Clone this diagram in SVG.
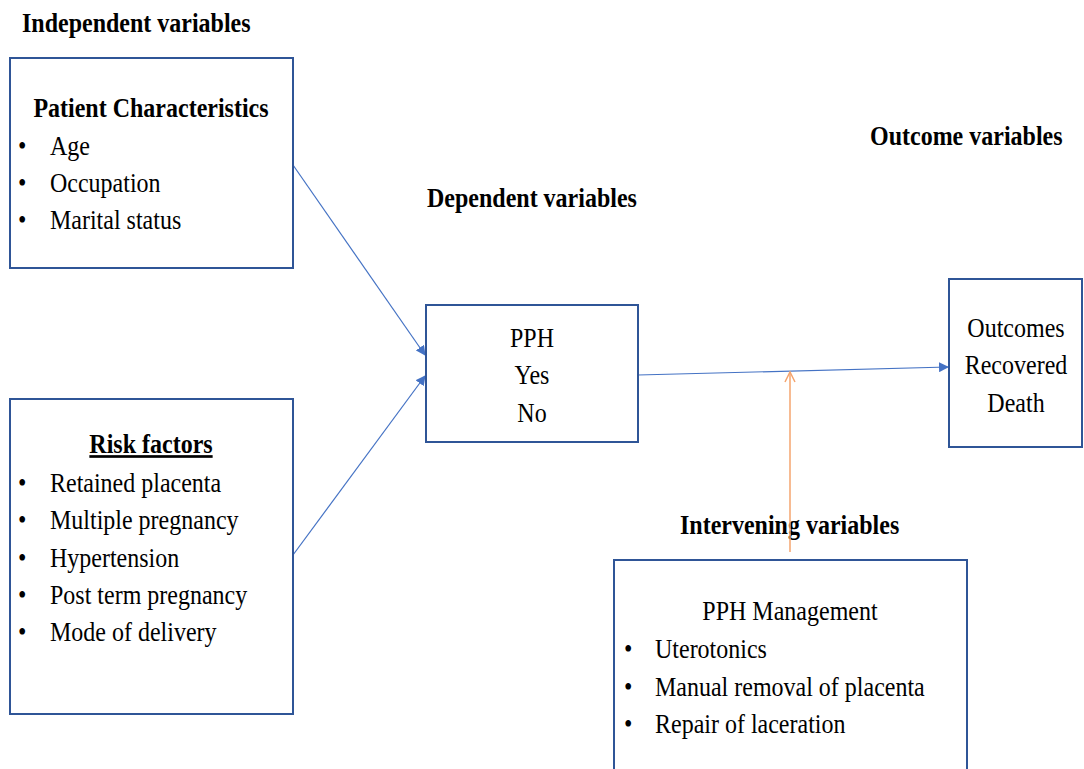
<svg xmlns="http://www.w3.org/2000/svg" width="1084" height="769" viewBox="0 0 1084 769">
<defs>
<style>
.box{fill:#fff;stroke:#2F5597;stroke-width:2}
.t{font-family:"Liberation Serif","Times New Roman",serif;font-size:24px;fill:#000}
.b{font-weight:bold}
.c{text-anchor:middle}
.con{fill:none;stroke:#4472C4;stroke-width:1.2}
.org{fill:none;stroke:#F4A46E;stroke-width:1.5}
</style>
<marker id="ah" viewBox="0 0 10 10" refX="9" refY="5" markerWidth="10" markerHeight="10" markerUnits="userSpaceOnUse" orient="auto">
<path d="M0,0 L10,5 L0,10 z" fill="#4472C4"/>
</marker>
<marker id="oh" viewBox="0 0 12 12" refX="11" refY="6" markerWidth="12" markerHeight="12" markerUnits="userSpaceOnUse" orient="auto">
<path d="M1,1 L11,6 L1,11" fill="none" stroke="#F4A46E" stroke-width="1.5"/>
</marker>
</defs>
<rect width="1084" height="769" fill="#fff"/>
<g id="labels" transform="scale(1,1.12)">
<text class="t b" x="22" y="28.6">Independent variables</text>
<text class="t b" x="870" y="129.5">Outcome variables</text>
<text class="t b" x="427" y="184.8">Dependent variables</text>
<text class="t b" x="680" y="476.8">Intervening variables</text>
</g>
<g id="connectors">
<line class="con" x1="293" y1="165" x2="425" y2="355" marker-end="url(#ah)"/>
<line class="con" x1="293" y1="555" x2="425" y2="376" marker-end="url(#ah)"/>
<line class="con" x1="638" y1="375" x2="948" y2="367" marker-end="url(#ah)"/>
<line class="org" x1="790" y1="552" x2="790" y2="372" marker-end="url(#oh)"/>
</g>
<g id="patient">
<rect class="box" x="10" y="58" width="283" height="210"/>
<g transform="scale(1,1.12)">
<text class="t b c" x="151" y="104.5">Patient Characteristics</text>
<text class="t" x="18" y="138.4">•</text><text class="t" x="50" y="138.4">Age</text>
<text class="t" x="18" y="171.4">•</text><text class="t" x="50" y="171.4">Occupation</text>
<text class="t" x="18" y="204.5">•</text><text class="t" x="50" y="204.5">Marital status</text>
</g>
</g>
<g id="risk">
<rect class="box" x="10" y="399" width="283" height="315"/>
<g transform="scale(1,1.12)">
<text class="t b c" x="151" y="404.5" text-decoration="underline">Risk factors</text>
<text class="t" x="18" y="439.3">•</text><text class="t" x="50" y="439.3">Retained placenta</text>
<text class="t" x="18" y="472.3">•</text><text class="t" x="50" y="472.3">Multiple pregnancy</text>
<text class="t" x="18" y="506.3">•</text><text class="t" x="50" y="506.3">Hypertension</text>
<text class="t" x="18" y="539.3">•</text><text class="t" x="50" y="539.3">Post term pregnancy</text>
<text class="t" x="18" y="572.3">•</text><text class="t" x="50" y="572.3">Mode of delivery</text>
</g>
</g>
<g id="pph">
<rect class="box" x="426" y="305" width="212" height="137"/>
<g transform="scale(1,1.12)">
<text class="t c" x="532" y="309.8">PPH</text>
<text class="t c" x="532" y="342.9">Yes</text>
<text class="t c" x="532" y="376.8">No</text>
</g>
</g>
<g id="outcomes">
<rect class="box" x="949" y="279" width="133" height="168"/>
<g transform="scale(1,1.12)">
<text class="t c" x="1016" y="300.9">Outcomes</text>
<text class="t c" x="1016" y="333.9">Recovered</text>
<text class="t c" x="1016" y="367.9">Death</text>
</g>
</g>
<g id="management">
<rect class="box" x="614" y="560" width="353" height="220"/>
<g transform="scale(1,1.12)">
<text class="t c" x="790" y="553.6">PPH Management</text>
<text class="t" x="624" y="587.5">•</text><text class="t" x="655" y="587.5">Uterotonics</text>
<text class="t" x="624" y="621.4">•</text><text class="t" x="655" y="621.4">Manual removal of placenta</text>
<text class="t" x="624" y="654.5">•</text><text class="t" x="655" y="654.5">Repair of laceration</text>
</g>
</g>
</svg>
